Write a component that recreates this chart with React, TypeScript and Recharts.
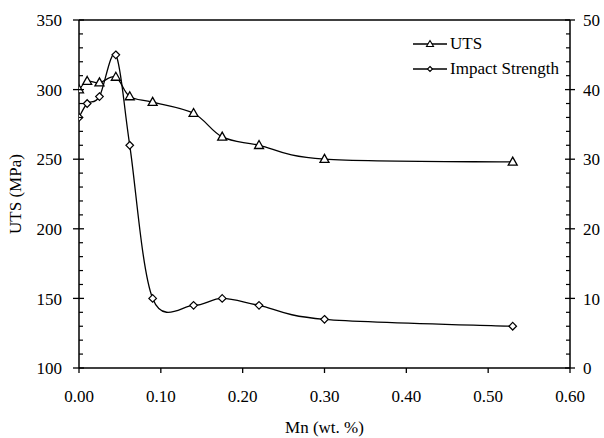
import React from 'react';
import { LineChart, Line, XAxis, YAxis, ReferenceLine } from 'recharts';

// Mn content (wt. %)
const mnValues = [0, 0.01, 0.025, 0.045, 0.062, 0.09, 0.14, 0.175, 0.22, 0.3, 0.53];
// UTS (MPa), left axis
const utsValues = [300, 306, 305, 309, 295, 291, 283, 266, 260, 250, 248];
// Impact strength, right axis
const impactValues = [36, 38, 39, 45, 32, 10, 9, 10, 9, 7, 6];

const xTicks = [0, 0.1, 0.2, 0.3, 0.4, 0.5, 0.6];
const utsMajorTicks = [100, 150, 200, 250, 300, 350];
const impactMajorTicks = [0, 10, 20, 30, 40, 50];
const utsMinorStep = 10;
const impactMinorStep = 2;

const buildTicks = (major: number[], step: number) => {
  const out: number[] = [];
  const lo = major[0];
  const hi = major[major.length - 1];
  for (let v = lo; v <= hi + 1e-9; v += step) out.push(Math.round(v * 1000) / 1000);
  return out;
};
const utsTicks = buildTicks(utsMajorTicks, utsMinorStep);
const impactTicks = buildTicks(impactMajorTicks, impactMinorStep);

const data = mnValues.map((mn, i) => ({ mn, uts: utsValues[i], impact: impactValues[i] }));

const FS = 17;
const textStyle: React.CSSProperties = { fontFamily: 'Liberation Serif', fontSize: FS, fill: '#000' };

// Excel-like smoothed line (Catmull-Rom through the points)
const excelSmooth = (context: any) => {
  let pts: [number, number][] = [];
  return {
    areaStart() {},
    areaEnd() {},
    lineStart() {
      pts = [];
    },
    point(x: number, y: number) {
      pts.push([+x, +y]);
    },
    lineEnd() {
      const n = pts.length;
      if (!n) return;
      context.moveTo(pts[0][0], pts[0][1]);
      for (let i = 0; i < n - 1; i++) {
        const p0 = pts[Math.max(0, i - 1)];
        const p1 = pts[i];
        const p2 = pts[i + 1];
        const p3 = pts[Math.min(n - 1, i + 2)];
        const c1x = p1[0] + (p2[0] - p0[0]) / 6;
        const c1y = p1[1] + (p2[1] - p0[1]) / 6;
        const c2x = p2[0] - (p3[0] - p1[0]) / 6;
        const c2y = p2[1] - (p3[1] - p1[1]) / 6;
        context.bezierCurveTo(c1x, c1y, c2x, c2y, p2[0], p2[1]);
      }
    },
  };
};

const TriangleDot = (props: any) => {
  const { cx, cy, index } = props;
  if (cx == null || cy == null) return <g key={`t${index}`} />;
  const w = 4.5;
  const h = 8;
  return (
    <path
      key={`t${index}`}
      d={`M${cx},${cy - h * 0.6} L${cx + w},${cy + h * 0.4} L${cx - w},${cy + h * 0.4} Z`}
      fill="#fff"
      stroke="#000"
      strokeWidth={1.3}
    />
  );
};

const DiamondDot = (props: any) => {
  const { cx, cy, index } = props;
  if (cx == null || cy == null) return <g key={`d${index}`} />;
  const r = 3.8;
  return (
    <path
      key={`d${index}`}
      d={`M${cx},${cy - r} L${cx + r},${cy} L${cx},${cy + r} L${cx - r},${cy} Z`}
      fill="#fff"
      stroke="#000"
      strokeWidth={1.2}
    />
  );
};

const LeftTick = (props: any) => {
  const { x, y, payload } = props;
  const v = payload.value;
  if (utsMajorTicks.includes(v)) {
    return (
      <g>
        <line x1={x - 6} x2={x + 5} y1={y} y2={y} stroke="#000" strokeWidth={1.3} />
        <text x={x - 17} y={y} dy="0.36em" textAnchor="end" style={textStyle}>
          {v}
        </text>
      </g>
    );
  }
  return <line x1={x} x2={x + 4} y1={y} y2={y} stroke="#000" strokeWidth={1.2} />;
};

const RightTick = (props: any) => {
  const { x, y, payload } = props;
  const v = payload.value;
  if (impactMajorTicks.includes(v)) {
    return (
      <g>
        <line x1={x - 5} x2={x + 5} y1={y} y2={y} stroke="#000" strokeWidth={1.3} />
        <text x={x + 13} y={y} dy="0.36em" textAnchor="start" style={textStyle}>
          {v}
        </text>
      </g>
    );
  }
  return <line x1={x - 4} x2={x} y1={y} y2={y} stroke="#000" strokeWidth={1.2} />;
};

const BottomTick = (props: any) => {
  const { x, y, payload } = props;
  return (
    <g>
      <line x1={x} x2={x} y1={y} y2={y + 5} stroke="#000" strokeWidth={1.3} />
      <text x={x} y={y + 28} dy="0.36em" textAnchor="middle" style={textStyle}>
        {Number(payload.value).toFixed(2)}
      </text>
    </g>
  );
};

const LegendRow = ({ top, label, kind }: { top: number; label: string; kind: 'tri' | 'dia' }) => (
  <div style={{ position: 'absolute', left: 413, top: top - 10, height: 20, display: 'flex', alignItems: 'center' }}>
    <svg width={36} height={20} style={{ display: 'block' }}>
      <line x1={0} x2={34} y1={10} y2={10} stroke="#000" strokeWidth={1.3} />
      {kind === 'tri' ? (
        <path d="M17,6.5 L20.5,12.5 L13.5,12.5 Z" fill="#fff" stroke="#000" strokeWidth={1.1} />
      ) : (
        <path d="M17,7.5 L19.5,10 L17,12.5 L14.5,10 Z" fill="#fff" stroke="#000" strokeWidth={1.1} />
      )}
    </svg>
    <span
      style={{
        fontFamily: 'Liberation Serif',
        fontSize: FS,
        color: '#000',
        marginLeft: 1,
        whiteSpace: 'nowrap',
        lineHeight: '20px',
      }}
    >
      {label}
    </span>
  </div>
);

export default function App() {
  return (
    <div
      style={{
        position: 'absolute',
        left: 0,
        top: 0,
        width: 604,
        height: 438,
        background: '#fff',
        fontFamily: 'Liberation Serif',
      }}
    >
      <LineChart
        width={604}
        height={438}
        data={data}
        margin={{ top: 20, right: 0, bottom: 0, left: 0 }}
        style={{ fontFamily: 'Liberation Serif' }}
      >
        <XAxis
          dataKey="mn"
          type="number"
          domain={[0, 0.6]}
          ticks={xTicks}
          interval={0}
          height={70}
          tickSize={0}
          tickMargin={0}
          tickLine={false}
          axisLine={{ stroke: '#000', strokeWidth: 1.5 }}
          tick={<BottomTick />}
          allowDataOverflow
          label={{
            content: (p: any) => {
              const vb = p.viewBox || {};
              return (
                <text x={vb.x + vb.width / 2} y={vb.y + 59} dy="0.36em" textAnchor="middle" style={textStyle}>
                  Mn (wt. %)
                </text>
              );
            },
          }}
        />
        <YAxis
          yAxisId="l"
          orientation="left"
          type="number"
          domain={[100, 350]}
          ticks={utsTicks}
          interval={0}
          width={79}
          tickSize={0}
          tickMargin={0}
          tickLine={false}
          axisLine={{ stroke: '#000', strokeWidth: 1.5 }}
          tick={<LeftTick />}
          allowDataOverflow
          label={{
            content: (p: any) => {
              const vb = p.viewBox || {};
              const cx = vb.x + 15;
              const cy = vb.y + vb.height / 2;
              return (
                <text
                  x={cx}
                  y={cy}
                  dy="0.36em"
                  textAnchor="middle"
                  transform={`rotate(-90 ${cx} ${cy})`}
                  style={textStyle}
                >
                  UTS (MPa)
                </text>
              );
            },
          }}
        />
        <YAxis
          yAxisId="r"
          orientation="right"
          type="number"
          domain={[0, 50]}
          ticks={impactTicks}
          interval={0}
          width={34}
          tickSize={0}
          tickMargin={0}
          tickLine={false}
          axisLine={{ stroke: '#000', strokeWidth: 1.5 }}
          tick={<RightTick />}
          allowDataOverflow
        />
        <ReferenceLine yAxisId="l" y={350} stroke="#000" strokeWidth={1.5} />
        <Line
          yAxisId="l"
          dataKey="uts"
          type={excelSmooth as any}
          stroke="#000"
          strokeWidth={1.3}
          dot={(p: any) => <TriangleDot key={`t${p.index}`} {...p} />}
          activeDot={false}
          isAnimationActive={false}
        />
        <Line
          yAxisId="r"
          dataKey="impact"
          type={excelSmooth as any}
          stroke="#000"
          strokeWidth={1.3}
          dot={(p: any) => <DiamondDot key={`d${p.index}`} {...p} />}
          activeDot={false}
          isAnimationActive={false}
        />
      </LineChart>
      <LegendRow top={44} label="UTS" kind="tri" />
      <LegendRow top={69} label="Impact Strength" kind="dia" />
    </div>
  );
}
